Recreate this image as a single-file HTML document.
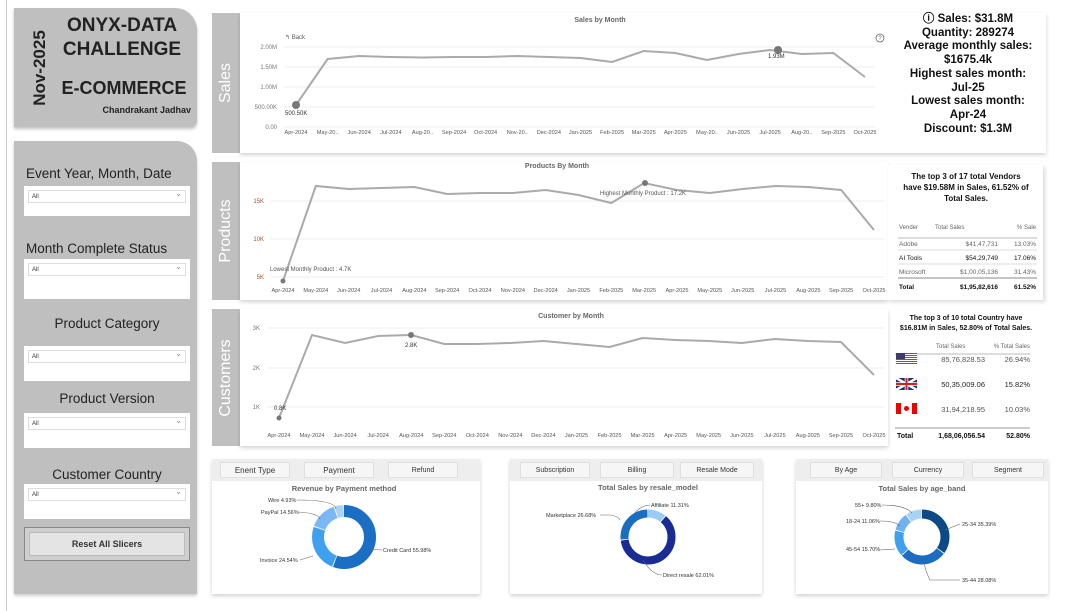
<!DOCTYPE html>
<html><head><meta charset="utf-8">
<style>
*{margin:0;padding:0;box-sizing:border-box}
body{width:1069px;height:611px;background:#fff;position:relative;overflow:hidden;font-family:"Liberation Sans",sans-serif;color:#222}
.abs{position:absolute}
.gray{background:#bfbfbf}
.panel{position:absolute;background:#fff;box-shadow:0 2px 4px rgba(0,0,0,.18)}
.side{position:absolute;background:#bfbfbf;color:#fff;font-size:16px}
.side span{position:absolute;left:50%;top:50%;transform:translate(-50%,-50%) rotate(-90deg);white-space:nowrap}
.sl{position:absolute;left:24px;width:166px;font-size:13.5px;color:#222;text-align:center}
.dd{position:absolute;left:24px;width:166px;height:30px;background:#fff}
.dd div{position:absolute;left:4px;top:4px;right:4px;height:13px;border:1px solid #ddd;font-size:6px;padding:3px 3px;color:#333}
.dd div:after{content:"⌄";position:absolute;right:3px;top:-2px;font-size:8px;color:#888}
.kpi{position:absolute;left:893px;width:150px;text-align:center;font-size:11.5px;font-weight:bold;line-height:13.7px;color:#111;z-index:6}
.tabs{position:absolute;height:22px;background:#eee}
.tab{position:absolute;top:3px;height:16px;background:#f6f6f6;border:1px solid #e0e0e0;font-size:7px;text-align:center;line-height:15px;color:#333}
svg text{font-family:"Liberation Sans",sans-serif}
#sv{z-index:5}
</style></head><body>
<div class="abs" style="left:6px;top:0;width:1px;height:611px;background:#ccc"></div>
<!-- title box -->
<div class="abs gray" style="left:14px;top:8px;width:183px;height:119px;border-radius:0 22px 6px 0;box-shadow:0 2px 3px rgba(0,0,0,.25)">
 <div class="abs" style="left:-12px;top:50px;transform:rotate(-90deg);font-size:17px;font-weight:bold;white-space:nowrap">Nov-2025</div>
 <div class="abs" style="left:42px;top:6px;font-size:19px;font-weight:bold;line-height:24px;text-align:center;width:132px">ONYX-DATA<br>CHALLENGE</div>
 <div class="abs" style="left:40px;top:70px;font-size:18px;font-weight:bold;width:140px;text-align:center">E-COMMERCE</div>
 <div class="abs" style="right:6px;top:97px;font-size:9px;font-weight:bold">Chandrakant Jadhav</div>
</div>
<!-- slicer panel -->
<div class="abs gray" style="left:14px;top:141px;width:183px;height:453px;border-radius:0 20px 0 0;box-shadow:0 2px 3px rgba(0,0,0,.2)">
 <div class="sl" style="top:25px;text-align:left;left:12px">Event Year, Month, Date</div>
 <div class="dd" style="top:45px;left:10px"><div>All</div></div>
 <div class="sl" style="top:100px;text-align:left;left:12px">Month Complete Status</div>
 <div class="dd" style="top:118px;left:10px;height:40px"><div>All</div></div>
 <div class="sl" style="top:175px;left:10px">Product Category</div>
 <div class="dd" style="top:205px;left:10px;height:35px"><div>All</div></div>
 <div class="sl" style="top:250px;left:10px">Product Version</div>
 <div class="dd" style="top:272px;left:10px;height:35px"><div>All</div></div>
 <div class="sl" style="top:326px;left:10px">Customer Country</div>
 <div class="dd" style="top:343px;left:10px;height:35px"><div>All</div></div>
 <div class="abs" style="left:10px;top:386px;width:166px;height:34px;border:1px solid #888;background:#cfcfcf;padding:4px"><div style="background:#e4e4e4;border:1px solid #bbb;height:24px;font-size:9px;font-weight:bold;text-align:center;line-height:22px;color:#333">Reset All Slicers</div></div>
</div>
<!-- section sides -->
<div class="side" style="left:212px;top:13px;width:28px;height:140px"><span>Sales</span></div>
<div class="panel" style="left:240px;top:13px;width:806px;height:140px"></div>
<div class="side" style="left:212px;top:162px;width:28px;height:138px"><span>Products</span></div>
<div class="panel" style="left:240px;top:162px;width:648px;height:138px"></div>
<div class="side" style="left:212px;top:309px;width:28px;height:137px"><span>Customers</span></div>
<div class="panel" style="left:240px;top:309px;width:648px;height:137px"></div>
<div class="panel" style="left:888px;top:165px;width:155px;height:135px;box-shadow:2px 2px 4px rgba(0,0,0,.15)"></div>

<!-- bottom panels -->
<div class="panel" style="left:212px;top:459px;width:268px;height:135px"></div>
<div class="panel" style="left:510px;top:459px;width:252px;height:135px"></div>
<div class="panel" style="left:796px;top:459px;width:252px;height:135px"></div>
<div class="tabs" style="left:212px;top:459px;width:268px">
 <div class="tab" style="left:8px;width:70px;font-size:8px">Enent Type</div><div class="tab" style="left:92px;width:70px;font-size:8px">Payment</div><div class="tab" style="left:176px;width:70px">Refund</div></div>
<div class="tabs" style="left:510px;top:459px;width:252px">
 <div class="tab" style="left:10px;width:70px">Subscription</div><div class="tab" style="left:90px;width:74px">Billing</div><div class="tab" style="left:170px;width:74px">Resale Mode</div></div>
<div class="tabs" style="left:796px;top:459px;width:252px">
 <div class="tab" style="left:14px;width:72px">By Age</div><div class="tab" style="left:96px;width:72px">Currency</div><div class="tab" style="left:176px;width:72px">Segment</div></div>

<svg class="abs" style="left:0;top:0" width="1069" height="611" id="sv"></svg>

<!-- KPIs -->
<div class="kpi" style="top:13px">ⓘ Sales: $31.8M<br>Quantity: 289274<br>Average monthly sales:<br>$1675.4k<br>Highest sales month:<br>Jul-25<br>Lowest sales month:<br>Apr-24<br>Discount: $1.3M</div>

<script>
const sv=document.getElementById('sv');let h='';
const T=(x,y,s,o)=>{o=o||{};h+=`<text x="${x}" y="${y}" font-size="${o.fs||6}" fill="${o.c||'#666'}" text-anchor="${o.a||'start'}" font-weight="${o.w||'normal'}">${s}</text>`};
const L=(x1,y1,x2,y2,c,w)=>{h+=`<line x1="${x1}" y1="${y1}" x2="${x2}" y2="${y2}" stroke="${c}" stroke-width="${w||1}"/>`};
const M=['Apr-2024','May-20..','Jun-2024','Jul-2024','Aug-20..','Sep-2024','Oct-2024','Nov-20..','Dec-2024','Jan-2025','Feb-2025','Mar-2025','Apr-2025','May-20..','Jun-2025','Jul-2025','Aug-20..','Sep-2025','Oct-2025'];
const M2=['Apr-2024','May-2024','Jun-2024','Jul-2024','Aug-2024','Sep-2024','Oct-2024','Nov-2024','Dec-2024','Jan-2025','Feb-2025','Mar-2025','Apr-2025','May-2025','Jun-2025','Jul-2025','Aug-2025','Sep-2025','Oct-2025'];
function chart(x0,x1,ly,grid,data,months,col){
 const st=(x1-x0)/18;
 grid.forEach(g=>{L(x0-12,g[1],x1+10,g[1],'#eee');T(x0-19,g[1]+2,g[0],{a:'end',fs:6,c:col||'#777'})});
 months.forEach((m,i)=>T(x0+i*st,ly,m,{a:'middle',fs:5.6,c:'#555'}));
 h+=`<polyline points="${data.map((v,i)=>(x0+i*st)+','+v).join(' ')}" fill="none" stroke="#aaa" stroke-width="2"/>`;
 return st;
}
T(600,22,'Sales by Month',{a:'middle',fs:7,c:'#666',w:'bold'});
T(285,39,'↰ Back',{fs:6,c:'#555'});
h+=`<circle cx="880" cy="38" r="4" fill="none" stroke="#666" stroke-width=".8"/>`;T(880,40,'?',{a:'middle',fs:6,c:'#666'});
chart(296,865,134,[['2.00M',47],['1.50M',67],['1.00M',87],['500.00K',107],['0.00',127]],[105,59,56,57,57.5,57,57,56,57,58,62,51,53,60,54,50,54,53,77],M);
h+=`<circle cx="296" cy="105" r="4" fill="#777"/><circle cx="778" cy="50" r="4" fill="#777"/>`;
T(285,115,'500.50K',{fs:6,c:'#333'});T(768,58,'1.93M',{fs:6,c:'#333'});
T(557,168,'Products By Month',{a:'middle',fs:7,c:'#666',w:'bold'});
chart(283,874,292,[['15K',201],['10K',239],['5K',277]],[281,186,189,188,187,194,193,193,190,195,203,183,190,193,189,186,187,190,230],M2,'#a0522d');
h+=`<circle cx="283" cy="281" r="2.5" fill="#777"/><circle cx="645" cy="183" r="3" fill="#777"/>`;
T(270,271,'Lowest Monthly Product : 4.7K',{fs:6,c:'#555'});T(600,195,'Highest Monthly Product : 17.2K',{fs:6,c:'#555'});
T(571,318,'Customer by Month',{a:'middle',fs:7,c:'#666',w:'bold'});
chart(279,874,437,[['3K',328],['2K',368],['1K',407]],[418,335,343,336,335,344,344,343,341,344,347,338,340,341,343,339,341,342,375],M2);
h+=`<circle cx="279" cy="418" r="2.5" fill="#777"/><circle cx="411" cy="335" r="3" fill="#777"/>`;
T(274,410,'0.8K',{fs:6,c:'#333'});T(405,347,'2.8K',{fs:6,c:'#333'});
T(966,179,'The top 3 of 17 total Vendors',{a:'middle',fs:8,c:'#111',w:'bold'});
T(966,190,'have $19.58M in Sales, 61.52% of',{a:'middle',fs:8,c:'#111',w:'bold'});
T(966,201,'Total Sales.',{a:'middle',fs:8,c:'#111',w:'bold'});
T(899,229,'Vender',{fs:6});T(935,229,'Total Sales',{fs:6});T(1036,229,'% Sale',{fs:6,a:'end'});
L(898,238,1037,238,'#bbb');
[['Adobe','$41,47,731','13.03%',246,'#666'],['AI Tools','$54,29,749','17.06%',260,'#111'],['Microsoft','$1,00,05,136','31.43%',274,'#666']].forEach(r=>{T(899,r[3],r[0],{fs:6.5,c:r[4]});T(998,r[3],r[1],{fs:6.5,a:'end',c:r[4]});T(1036,r[3],r[2],{fs:6.5,a:'end',c:r[4]});L(898,r[3]+4,1037,r[3]+4,'#ddd')});
L(898,278,1037,278,'#888');
T(899,289,'Total',{fs:6.5,c:'#111',w:'bold'});T(998,289,'$1,95,82,616',{fs:6.5,a:'end',c:'#111',w:'bold'});T(1036,289,'61.52%',{fs:6.5,a:'end',c:'#111',w:'bold'});
T(966,320,'The top 3 of 10 total Country have',{a:'middle',fs:7,c:'#111',w:'bold'});
T(966,330,'$16.81M in Sales, 52.80% of Total Sales.',{a:'middle',fs:7,c:'#111',w:'bold'});
T(936,348,'Total Sales',{fs:6});T(1030,348,'% Total Sales',{fs:6,a:'end'});L(895,354,1030,354,'#bbb');
h+=`<g><rect x="896" y="353" width="21" height="12" fill="#fff"/>`;for(let i=0;i<6;i++)h+=`<rect x="896" y="${353+i*2}" width="21" height="1" fill="#c33"/>`;h+=`<rect x="896" y="353" width="9" height="6" fill="#3c3b6e"/></g>`;
h+=`<rect x="896" y="378" width="21" height="12" fill="#1e2e6e"/><path d="M896 378 L917 390 M917 378 L896 390" stroke="#fff" stroke-width="2.5"/><path d="M906.5 378 V390 M896 384 H917" stroke="#fff" stroke-width="3.5"/><path d="M906.5 378 V390 M896 384 H917" stroke="#c22" stroke-width="2"/>`;
h+=`<rect x="896" y="403" width="21" height="11" fill="#fff"/><rect x="896" y="403" width="5" height="11" fill="#e00"/><rect x="912" y="403" width="5" height="11" fill="#e00"/><circle cx="906.5" cy="408.5" r="2.5" fill="#e00"/>`;
T(985,362,'85,76,828.53',{fs:7.5,a:'end',c:'#555'});T(1030,362,'26.94%',{fs:7.5,a:'end',c:'#555'});
T(985,387,'50,35,009.06',{fs:7.5,a:'end',c:'#222'});T(1030,387,'15.82%',{fs:7.5,a:'end',c:'#222'});
T(985,412,'31,94,218.95',{fs:7.5,a:'end',c:'#555'});T(1030,412,'10.03%',{fs:7.5,a:'end',c:'#555'});
L(895,428,1030,428,'#999');
T(897,438,'Total',{fs:7,c:'#111',w:'bold'});T(985,438,'1,68,06,056.54',{fs:7,a:'end',c:'#111',w:'bold'});T(1030,438,'52.80%',{fs:7,a:'end',c:'#111',w:'bold'});
function donut(cx,cy,r,w,parts){const C=2*Math.PI*r;let a=0;parts.forEach(p=>{const len=p[0]/100*C;h+=`<circle cx="${cx}" cy="${cy}" r="${r}" fill="none" stroke="${p[1]}" stroke-width="${w}" stroke-dasharray="${Math.max(len-0.8,0)} ${C}" stroke-dashoffset="${-a}" transform="rotate(-90 ${cx} ${cy})"/>`;a+=len})}
T(344,491,'Revenue by Payment method',{a:'middle',fs:7.5,c:'#666',w:'bold'});
donut(344,537,26,12,[[55.98,'#1a6fc4'],[24.54,'#3fa0f0'],[14.56,'#7ab8f5'],[4.93,'#a9d2f7']]);
T(268,502,'Wire 4.93%',{fs:5.5,c:'#333'});T(261,514,'PayPal 14.56%',{fs:5.5,c:'#333'});T(260,562,'Invoice 24.54%',{fs:5.5,c:'#333'});T(383,552,'Credit Card 55.98%',{fs:5.5,c:'#333'});
h+=`<path d="M297 500 Q335 500 336 509 M298 512 Q318 513 320 519 M300 560 Q310 557 313 556 M370 549 L382 550" fill="none" stroke="#666" stroke-width=".6"/>`;
T(648,490,'Total Sales by resale_model',{a:'middle',fs:7.5,c:'#666',w:'bold'});
donut(648,537,23.5,8,[[11.31,'#9ccbf3'],[62.01,'#1a2b96'],[26.68,'#1b6dc1']]);
T(651,507,'Affiliate 11.31%',{fs:5.5,c:'#333'});T(546,517,'Marketplace 26.68%',{fs:5.5,c:'#333'});T(663,577,'Direct resale 62.01%',{fs:5.5,c:'#333'});
h+=`<path d="M650 505 Q640 506 635 513 M600 515 L610 515 Q618 516 620 520 M662 575 Q652 575 643 560" fill="none" stroke="#666" stroke-width=".6"/>`;
T(922,491,'Total Sales by age_band',{a:'middle',fs:7.5,c:'#666',w:'bold'});
donut(922,537,23,9,[[35.39,'#0d4a85'],[28.08,'#1b6dc1'],[15.70,'#3fa0f0'],[11.06,'#6fb2f2'],[9.80,'#a9d2f7']]);
T(855,507,'55+ 9.80%',{fs:5.5,c:'#333'});T(846,523,'18-24 11.06%',{fs:5.5,c:'#333'});T(846,551,'45-54 15.70%',{fs:5.5,c:'#333'});T(962,526,'25-34 35.39%',{fs:5.5,c:'#333'});T(962,582,'35-44 28.08%',{fs:5.5,c:'#333'});
h+=`<path d="M882 505 Q905 505 912 513 M880 521 Q895 521 900 526 M880 550 L895 549 M945 530 L960 524 M960 580 L930 580 Q925 570 924 562" fill="none" stroke="#666" stroke-width=".6"/>`;
sv.innerHTML=h;
</script>
</body></html>
